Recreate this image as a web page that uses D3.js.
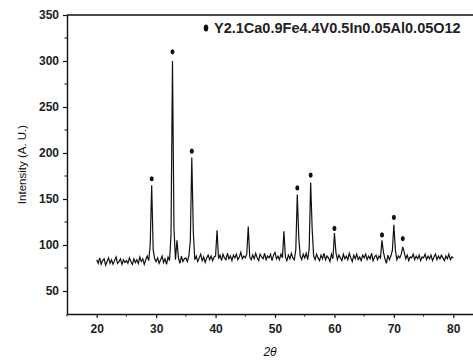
<!DOCTYPE html>
<html>
<head>
<meta charset="utf-8">
<script src="https://cdn.jsdelivr.net/npm/d3@7/dist/d3.min.js"></script>
<style>
  html, body { margin: 0; padding: 0; background: #fff; overflow: hidden; }
  svg { display: block; font-family: "Liberation Sans", Arial, sans-serif; }
</style>
</head>
<body>
<div id="chart"></div>
<script>
// scan: 20 to 80 deg 2theta, 0.25 deg step
const scanStart = 20;
const scanStep = 0.25;
const intensity = [
  84, 80, 86, 79, 83, 85, 78, 82, 86, 80, 84, 79, 83, 87, 80, 82, 85, 79, 84, 81,
  83, 80, 86, 82, 79, 85, 81, 84, 80, 87, 82, 85, 79, 84, 88, 83, 100, 165, 95, 85,
  82, 86, 80, 84, 88, 81, 85, 79, 87, 83, 110, 300, 118, 84, 105, 86, 80, 88, 82, 85,
  86, 82, 88, 104, 195, 115, 84, 88, 82, 86, 90, 83, 87, 81, 86, 89, 84, 88, 83, 87,
  88, 116, 85, 89, 83, 90, 86, 84, 91, 85, 88, 83, 89, 86, 90, 84, 87, 92, 85, 88,
  86, 90, 120, 87, 84, 89, 85, 91, 86, 83, 90, 87, 85, 91, 84, 88, 86, 90, 83, 89,
  92, 85, 88, 84, 90, 86, 115, 87, 83, 89, 85, 91, 86, 84, 95, 155, 108, 88, 84, 90,
  86, 91, 84, 96, 168, 118, 88, 84, 90, 86, 83, 89, 85, 91, 84, 88, 86, 82, 90, 85,
  113, 92, 84, 89, 86, 83, 90, 85, 88, 84, 91, 86, 82, 89, 85, 90, 84, 87, 83, 89,
  86, 90, 84, 88, 85, 91, 83, 87, 89, 84, 88, 86, 105, 92, 85, 80, 89, 84, 88, 94,
  122, 95, 84, 88, 86, 90, 98, 92, 85, 89, 83, 87, 86, 90, 84, 88, 85, 89, 83, 87,
  86, 90, 84, 88, 85, 89, 83, 87, 90, 84, 88, 85, 89, 86, 83, 88, 85, 90, 84, 87,
  86
];

// peaks marked with the phase symbol
const markerAngles = [29.25, 32.75, 36.0, 53.75, 56.0, 60.0, 68.0, 70.0, 71.5];
const markerIntensities = [172, 310, 202, 162, 176, 118, 111, 130, 107];

const xTicks = [20, 30, 40, 50, 60, 70, 80];
const yTicks = [50, 100, 150, 200, 250, 300, 350];
const legendLabel = "Y2.1Ca0.9Fe4.4V0.5In0.05Al0.05O12";

const W = 473, H = 362;
const margin = { left: 67, top: 15, bottom: 48 };
const plotH = H - margin.top - margin.bottom;

const svg = d3.select("#chart").append("svg")
  .attr("width", W)
  .attr("height", H);

const x = d3.scaleLinear().domain([15, 85]).range([margin.left, margin.left + 416]);
const y = d3.scaleLinear().domain([25, 350]).range([margin.top + plotH, margin.top]);

const data = intensity.map((v, i) => ({ t: scanStart + i * scanStep, v }));

// frame: top line
svg.append("line")
  .attr("x1", x(15)).attr("x2", W)
  .attr("y1", y(350)).attr("y2", y(350))
  .attr("stroke", "#111").attr("stroke-width", 1.3);

// X axis
const xAxis = svg.append("g")
  .attr("transform", `translate(0,${y(25)})`)
  .call(d3.axisBottom(x).tickValues(xTicks).tickSize(4).tickSizeOuter(0).tickPadding(6));
xAxis.append("g").selectAll("line")
  .data([15, 25, 35, 45, 55, 65, 75, 85])
  .enter().append("line")
  .attr("x1", d => x(d)).attr("x2", d => x(d))
  .attr("y1", 0).attr("y2", 2.5)
  .attr("stroke", "#111");

// Y axis
const yAxis = svg.append("g")
  .attr("transform", `translate(${x(15)},0)`)
  .call(d3.axisLeft(y).tickValues(yTicks).tickSize(4).tickSizeOuter(0).tickPadding(4));
yAxis.append("g").selectAll("line")
  .data([75, 125, 175, 225, 275, 325])
  .enter().append("line")
  .attr("x1", 0).attr("x2", -2.5)
  .attr("y1", d => y(d)).attr("y2", d => y(d))
  .attr("stroke", "#111");

svg.selectAll(".domain").attr("stroke", "#111").attr("stroke-width", 1.4);
svg.selectAll(".tick line").attr("stroke", "#111").attr("stroke-width", 1.2);
svg.selectAll(".tick text")
  .style("font-size", "12px")
  .style("font-weight", "bold")
  .attr("fill", "#222");

// pattern
svg.append("path")
  .datum(data)
  .attr("fill", "none")
  .attr("stroke", "#111")
  .attr("stroke-width", 1.2)
  .attr("d", d3.line().x(d => x(d.t)).y(d => y(d.v)));

// peak markers
svg.append("g").selectAll("ellipse")
  .data(markerAngles.map((a, i) => ({ a, v: markerIntensities[i] })))
  .enter().append("ellipse")
  .attr("cx", d => x(d.a))
  .attr("cy", d => y(d.v))
  .attr("rx", 2)
  .attr("ry", 2.6)
  .attr("fill", "#111");

// legend
svg.append("ellipse")
  .attr("cx", 206).attr("cy", 28)
  .attr("rx", 2.3).attr("ry", 3.6)
  .attr("fill", "#111");
svg.append("text")
  .attr("x", 214).attr("y", 33)
  .style("font-size", "14.5px")
  .style("font-weight", "bold")
  .attr("fill", "#222")
  .text(legendLabel);

// axis titles
svg.append("text")
  .attr("transform", `translate(26,${(y(25) + y(350)) / 2}) rotate(-90)`)
  .attr("text-anchor", "middle")
  .style("font-size", "11.5px")
  .attr("fill", "#111")
  .text("Intensity (A. U.)");

svg.append("text")
  .attr("x", 270)
  .attr("y", 356)
  .attr("text-anchor", "middle")
  .style("font-size", "12px")
  .style("font-style", "italic")
  .attr("fill", "#111")
  .text("2θ");
</script>
</body>
</html>
